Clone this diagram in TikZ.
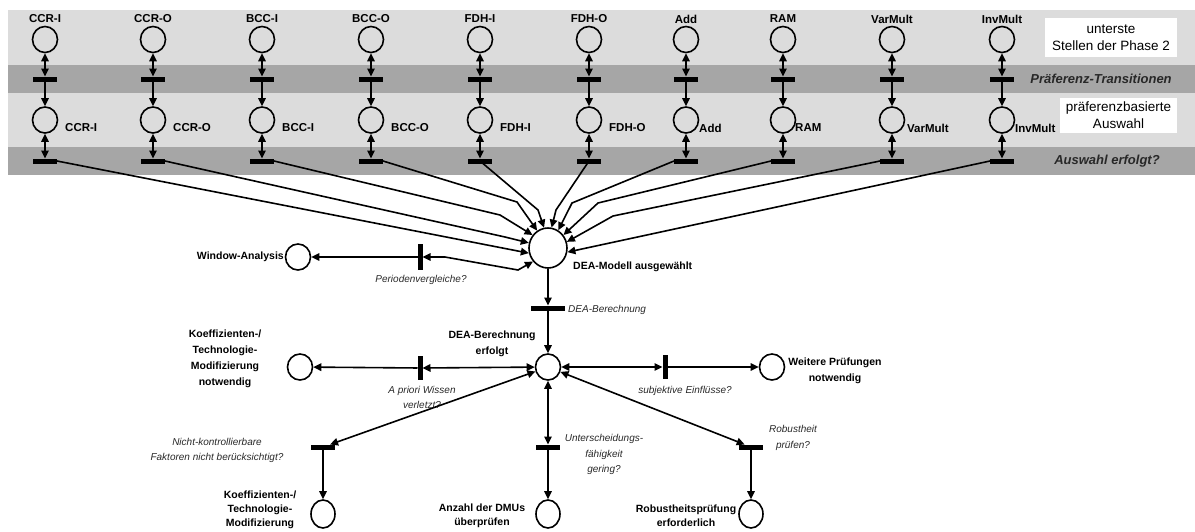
\documentclass[tikz,border=0pt]{standalone}
\usepackage{fontspec}
\setmainfont{Liberation Sans}
\usetikzlibrary{arrows.meta,calc,shapes.geometric}
\definecolor{bandlight}{RGB}{220,220,220}
\definecolor{banddark}{RGB}{166,166,166}
\definecolor{notegray}{RGB}{40,40,40}
\begin{document}
\begin{tikzpicture}[x=1pt,y=-1pt,
  >={Triangle[length=8pt,width=7.5pt]},
  arc/.style={draw, line width=1.6pt},
  place/.style={draw, line width=1.6pt, ellipse, minimum width=25pt, minimum height=26pt, inner sep=0pt},
  hbar/.style={fill=black, minimum width=24pt, minimum height=5pt, inner sep=0pt, outer sep=0pt},
  vbar/.style={fill=black, minimum width=5pt, minimum height=24pt, inner sep=0pt, outer sep=0pt},
  collabel/.style={font=\fontsize{11.5}{13}\selectfont\bfseries, inner sep=0pt},
  lbl/.style={font=\fontsize{10.5}{16}\selectfont\bfseries, align=center, inner sep=0pt},
  lowlbl/.style={font=\fontsize{10.5}{14}\selectfont\bfseries, align=center, inner sep=0pt},
  note/.style={font=\fontsize{10}{15.5}\selectfont\itshape, align=center, inner sep=0pt, text=notegray},
  bandlbl/.style={font=\fontsize{13}{15}\selectfont\bfseries\itshape, inner sep=0pt, text=notegray},
  boxlbl/.style={font=\fontsize{13.5}{17}\selectfont, align=center, fill=white, inner sep=0pt},
]
\useasboundingbox (0,0) rectangle (1195,531);

% phase bands
\fill[bandlight] (8,10) rectangle (1195,65);
\fill[banddark]  (8,65) rectangle (1195,93);
\fill[bandlight] (8,93) rectangle (1195,147);
\fill[banddark]  (8,147) rectangle (1195,175);

% band captions
\node[boxlbl, minimum width=132pt, minimum height=39pt] (bx1) at (1111,37.5) {unterste\\Stellen der Phase 2};
\node[bandlbl] (bl1) at (1101,79) {Präferenz-Transitionen};
\node[boxlbl, minimum width=117pt, minimum height=35pt] (bx2) at (1118.5,115.5) {präferenzbasierte\\Auswahl};
\node[bandlbl] (bl2) at (1107,161) {Auswahl erfolgt?};

% one column per DEA model
\foreach \i/\x/\name/\dx in {1/45/CCR-I/20, 2/153/CCR-O/20, 3/262/BCC-I/20, 4/371/BCC-O/20,
    5/480/FDH-I/20, 6/589/FDH-O/20, 7/686/Add/13, 8/783/RAM/12, 9/892/VarMult/15, 10/1002/InvMult/13} {
  \node[place] (p\i) at (\x,39.5) {};
  \node[collabel] (lt\i) at (\x,19) {\name};
  \node[hbar] (ta\i) at (\x,79) {};
  \node[place] (q\i) at (\x,120) {};
  \node[collabel, anchor=west] (lb\i) at ({\x+\dx},128) {\name};
  \node[hbar] (tb\i) at (\x,161) {};
  \draw[arc,<->] (p\i) -- (ta\i);
  \draw[arc,->] (ta\i) -- (q\i);
  \draw[arc,<->] (q\i) -- (tb\i);
}

% selected model
\node[place, minimum width=38pt, minimum height=40pt] (dea) at (548,248) {};
\node[lbl, anchor=west] (deal) at (573,267) {DEA-Modell ausgewählt};

% selection transitions feeding the selected model
\draw[arc,->] (tb1.east) -- (dea.195);
\draw[arc,->] (tb2.east) -- (505,237) -- (dea.165);
\draw[arc,->] (tb3.east) -- (500,215) -- (dea.140);
\draw[arc,->] (tb4.east) -- (517,202) -- (dea.122);
\draw[arc,->] (tb5.center) -- (538,210) -- (dea.101);
\draw[arc,->] (tb6.center) -- (556,210) -- (dea.80);
\draw[arc,->] (tb7.west) -- (572,203) -- (dea.60);
\draw[arc,->] (tb8.west) -- (598,203) -- (dea.40);
\draw[arc,->] (tb9.west) -- (613,216) -- (dea.18);
\draw[arc,->] (tb10.west) -- (dea.-12);

% window analysis branch
\node[place] (win) at (298,257) {};
\node[lbl, anchor=east] (winl) at (284,257) {Window-Analysis};
\node[vbar, minimum height=26pt] (pv) at (420,257) {};
\node[note] (pvn) at (421,280) {Periodenvergleiche?};
\draw[arc,->] (pv) -- (win);
\draw[arc,<->] (pv) -- (445,257) -- (518,270) -- (dea.222);

% DEA computation
\node[hbar, minimum width=34pt] (db) at (548,308) {};
\node[note, anchor=west] (dbn) at (568,310) {DEA-Berechnung};
\node[place] (erf) at (548,367) {};
\node[lbl] (erfl) at (492,343.5) {DEA-Berechnung\\erfolgt};
\draw[arc,->] (dea) -- (db);
\draw[arc,->] (db) -- (erf);

% a priori knowledge
\node[place] (kc) at (300,367) {};
\node[lbl] (kcl) at (225,358.5) {Koeffizienten-/\\Technologie-\\Modifizierung\\notwendig};
\node[vbar] (ap) at (420,368) {};
\node[note] (apn) at (422,397.5) {A priori Wissen\\verletzt?};
\draw[arc,->] (ap) -- (kc);
\draw[arc,<->] (ap) -- (erf);

% subjective influences
\node[vbar] (sj) at (665,367) {};
\node[note] (sjn) at (685,391) {subjektive Einflüsse?};
\node[place] (wc) at (772,367) {};
\node[lbl] (wcl) at (835,370.5) {Weitere Prüfungen\\notwendig};
\draw[arc,<->] (erf) -- (sj);
\draw[arc,->] (sj) -- (wc);

% lower checks
\node[hbar] (nk) at (323,447) {};
\node[note] (nkn) at (217,450.5) {Nicht-kontrollierbare\\Faktoren nicht berücksichtigt?};
\node[place, minimum width=24pt, minimum height=28pt] (c1) at (323,514) {};
\node[lowlbl] (c1l) at (260,510) {Koeffizienten-/\\Technologie-\\Modifizierung};
\draw[arc,<->] (erf) -- (nk);
\draw[arc,->] (nk) -- (c1);

\node[hbar] (us) at (548,447) {};
\node[note] (usn) at (604,454.5) {Unterscheidungs-\\fähigkeit\\gering?};
\node[place, minimum width=24pt, minimum height=28pt] (c2) at (548,514) {};
\node[lowlbl] (c2l) at (482,516) {Anzahl der DMUs\\überprüfen};
\draw[arc,<->] (erf) -- (us);
\draw[arc,->] (us) -- (c2);

\node[hbar] (rb) at (751,447) {};
\node[note] (rbn) at (793,438) {Robustheit\\prüfen?};
\node[place, minimum width=24pt, minimum height=28pt] (c3) at (751,514) {};
\node[lowlbl] (c3l) at (686,516) {Robustheitsprüfung\\erforderlich};
\draw[arc,<->] (erf) -- (rb);
\draw[arc,->] (rb) -- (c3);
\end{tikzpicture}
\end{document}
